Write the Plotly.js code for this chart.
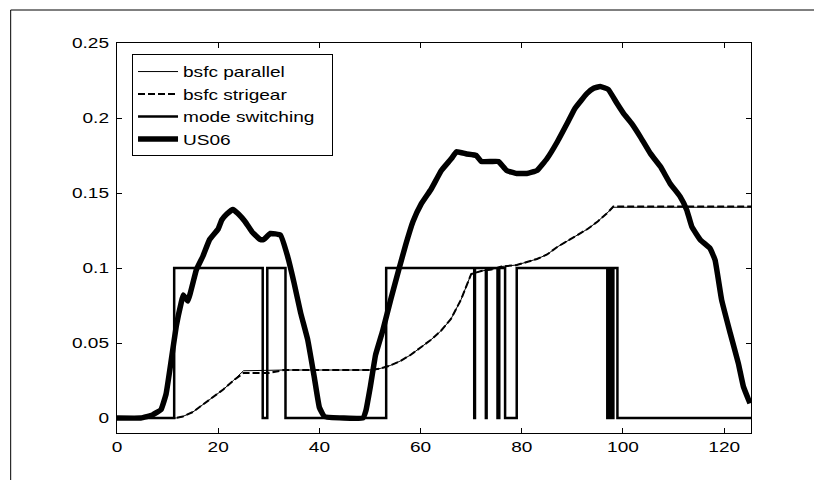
<!DOCTYPE html>
<html>
<head>
<meta charset="utf-8">
<script src="https://cdn.plot.ly/plotly-3.0.1.min.js"></script>
<style>
  html, body { margin: 0; padding: 0; background: #fff; }
  #chart { width: 814px; height: 480px; }
</style>
</head>
<body>
<div id="chart"></div>
<script>
// ---- data ----
const us06T = [0, 4.7, 7, 8.7, 9.7, 10.7, 11.7, 12.7, 13.1, 14, 15.7, 17, 18.3, 20, 20.7, 21.7, 22.9, 24, 25.3, 26.7, 28.3, 29, 30.3, 32.3, 33.7, 35, 36.3, 37.7, 39, 40, 41, 48.6, 49.2, 50.1, 51.1, 52.5, 54.1, 55.7, 57.1, 58.5, 60.1, 62.1, 64.1, 66.1, 67.1, 69.1, 71, 72, 74, 75.4, 77, 79, 81, 83, 85, 87, 88.9, 90.5, 92.9, 94.2, 95.5, 97.1, 98.8, 100.1, 101.7, 103.4, 105.4, 107.4, 109.3, 111.3, 112.6, 113.6, 115.3, 117.2, 118.2, 119.5, 121.2, 122.8, 123.8, 125.1];
const us06V = [0, 0, 0.002, 0.0056, 0.016, 0.038, 0.061, 0.077, 0.082, 0.078, 0.099, 0.108, 0.119, 0.126, 0.132, 0.136, 0.139, 0.136, 0.131, 0.124, 0.119, 0.119, 0.123, 0.122, 0.108, 0.090, 0.070, 0.052, 0.027, 0.007, 0.001, 0, 0.005, 0.0215, 0.042, 0.058, 0.079, 0.099, 0.116, 0.131, 0.1426, 0.1527, 0.165, 0.173, 0.1775, 0.176, 0.175, 0.171, 0.171, 0.171, 0.165, 0.163, 0.163, 0.165, 0.173, 0.184, 0.196, 0.2064, 0.2164, 0.2198, 0.221, 0.219, 0.2098, 0.2031, 0.1964, 0.1876, 0.1764, 0.1676, 0.1564, 0.1476, 0.1387, 0.1276, 0.1187, 0.1131, 0.1053, 0.0787, 0.0565, 0.0364, 0.0209, 0.0098];

const bsfcT = [0, 11.7, 13, 15, 17, 19, 21, 23, 25, 30, 32, 33, 40, 45, 50, 52, 54, 56, 58, 60, 62, 64, 66, 68, 70, 72, 74, 76, 79, 81, 83, 85, 87, 89, 91, 93, 95, 97, 98.1, 110, 125.3];
const bsfcParallel = [0, 0, 0.001, 0.004, 0.009, 0.014, 0.019, 0.025, 0.0315, 0.0318, 0.032, 0.032, 0.032, 0.032, 0.032, 0.033, 0.035, 0.038, 0.042, 0.047, 0.052, 0.058, 0.066, 0.079, 0.096, 0.098, 0.099, 0.101, 0.102, 0.104, 0.106, 0.109, 0.114, 0.118, 0.122, 0.126, 0.131, 0.137, 0.1405, 0.1405, 0.1405];
const bsfcStrigear = [0, 0, 0.001, 0.004, 0.009, 0.014, 0.019, 0.025, 0.030, 0.030, 0.0315, 0.032, 0.032, 0.032, 0.032, 0.033, 0.035, 0.038, 0.042, 0.047, 0.052, 0.058, 0.066, 0.079, 0.096, 0.098, 0.099, 0.101, 0.102, 0.104, 0.106, 0.109, 0.114, 0.118, 0.122, 0.126, 0.131, 0.137, 0.141, 0.141, 0.141];

const modeT = [0, 11.3, 28.8, 29.7, 33.3, 53.2, 70.6, 70.75, 72.9, 73.05, 75.2, 75.3, 75.45, 75.55, 76.7, 79.0, 96.9, 97.0, 97.2, 97.3, 97.5, 97.6, 97.8, 97.9, 98.0, 98.1, 98.9, 125.3];
const modeV = [0, 0.1, 0, 0.1, 0, 0.1, 0, 0.1, 0, 0.1, 0, 0.1, 0, 0.1, 0, 0.1, 0, 0.1, 0, 0.1, 0, 0.1, 0, 0.1, 0, 0.1, 0, 0];

const xTicks = [0, 20, 40, 60, 80, 100, 120];
const yTicks = [0, 0.05, 0.1, 0.15, 0.2, 0.25];
const yTickText = ['0', '0.05', '0.1', '0.15', '0.2', '0.25'];
const seriesNames = ['bsfc parallel', 'bsfc strigear', 'mode switching', 'US06'];

// ---- traces ----
const traces = [
  { x: bsfcT, y: bsfcParallel, name: seriesNames[0], mode: 'lines',
    line: { color: '#000', width: 1 } },
  { x: bsfcT, y: bsfcStrigear, name: seriesNames[1], mode: 'lines',
    line: { color: '#000', width: 2, dash: '7px,3px' } },
  { x: modeT, y: modeV, name: seriesNames[2], mode: 'lines',
    line: { color: '#000', width: 2.5, shape: 'hv' } },
  { x: us06T, y: us06V, name: seriesNames[3], mode: 'lines',
    line: { color: '#000', width: 5.5, shape: 'spline', smoothing: 0.3 } }
];

const fontFam = 'Liberation Sans, Arial, sans-serif';
const axisCommon = {
  showline: true, linecolor: '#000', linewidth: 1, mirror: 'ticks',
  ticks: 'inside', ticklen: 5, tickcolor: '#000', tickwidth: 1,
  showgrid: false, zeroline: false,
  tickfont: { family: fontFam, size: 15, color: '#000' }
};

const layout = {
  width: 814, height: 480,
  margin: { l: 117, r: 63, t: 43, b: 47, pad: 0 },
  paper_bgcolor: '#fff', plot_bgcolor: '#fff',
  showlegend: true,
  legend: {
    x: 0.0237, y: 0.971, xanchor: 'left', yanchor: 'top',
    bgcolor: '#fff', bordercolor: '#000', borderwidth: 1,
    font: { family: fontFam, size: 15, color: '#000' },
    itemwidth: 40, tracegroupgap: 0
  },
  xaxis: Object.assign({}, axisCommon, {
    range: [0, 125.3], tickvals: xTicks, ticktext: xTicks.map(String)
  }),
  yaxis: Object.assign({}, axisCommon, {
    range: [-0.01, 0.25], tickvals: yTicks, ticktext: yTickText,
    ticklabelstandoff: 4
  }),
  shapes: [
    { type: 'line', xref: 'paper', yref: 'paper', x0: -0.1677, x1: -0.1677, y0: -0.13, y1: 1.0846,
      line: { color: '#000', width: 1 } },
    { type: 'line', xref: 'paper', yref: 'paper', x0: -0.1677, x1: 1.11, y0: 1.0846, y1: 1.0846,
      line: { color: '#000', width: 1 } }
  ]
};

// The reference text is horizontally stretched; widen glyphs with SVG textLength,
// then widen the legend box so the stretched labels fit inside it.
const STRETCH = 1.27;
const LEGEND_BOX_W = 200;
Plotly.newPlot('chart', traces, layout, { displayModeBar: false, staticPlot: true }).then(function (gd) {
  gd.querySelectorAll('.xtick text, .ytick text, .legendtext').forEach(function (t) {
    const w = t.getComputedTextLength();
    if (w > 0) {
      t.setAttribute('textLength', (w * STRETCH).toFixed(1));
      t.setAttribute('lengthAdjust', 'spacingAndGlyphs');
    }
  });
  gd.querySelectorAll('g.legend rect.bg').forEach(function (r) {
    r.setAttribute('width', LEGEND_BOX_W);
  });
  document.querySelectorAll('clipPath[id^="legend"] rect').forEach(function (r) {
    r.setAttribute('width', LEGEND_BOX_W);
  });
});
</script>
</body>
</html>
